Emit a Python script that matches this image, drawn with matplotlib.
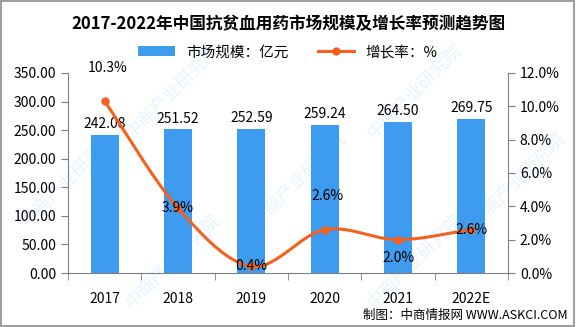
import numpy as np
import matplotlib.pyplot as plt
from matplotlib.patches import Rectangle

plt.rcParams['font.family'] = ['Noto Sans CJK SC', 'DejaVu Sans']

years = ['2017', '2018', '2019', '2020', '2021', '2022E']
market = [242.08, 251.52, 252.59, 259.24, 264.50, 269.75]
growth = [10.3, 3.9, 0.4, 2.6, 2.0, 2.6]
growth_pos = ['above', 'center', 'center', 'above', 'below', 'center']

bar_color = '#3d9bf0'
line_color = '#f5611d'


def smooth(xs, ys, n=30):
    # catmull-rom style smoothing like excel's smoothed line
    xs = np.asarray(xs, float)
    ys = np.asarray(ys, float)
    px = np.concatenate(([2 * xs[0] - xs[1]], xs, [2 * xs[-1] - xs[-2]]))
    py = np.concatenate(([2 * ys[0] - ys[1]], ys, [2 * ys[-1] - ys[-2]]))
    ox, oy = [], []
    t = np.linspace(0, 1, n)
    for i in range(1, len(px) - 2):
        for p, o in ((px, ox), (py, oy)):
            p0, p1, p2, p3 = p[i - 1], p[i], p[i + 1], p[i + 2]
            o.extend(0.5 * ((2 * p1) + (-p0 + p2) * t
                            + (2 * p0 - 5 * p1 + 4 * p2 - p3) * t ** 2
                            + (-p0 + 3 * p1 - 3 * p2 + p3) * t ** 3))
    return np.array(ox), np.array(oy)


fig = plt.figure(figsize=(5.76, 3.27), dpi=100)
fig.patches.append(Rectangle((0.002, 0.004), 0.995, 0.992, transform=fig.transFigure,
                             fill=False, edgecolor='#8c8c8c', lw=1.2))

ax = fig.add_axes([0.118, 0.165, 0.764, 0.612])
x = np.arange(len(years))
bars = ax.bar(x, market, width=0.38, color=bar_color, label='市场规模：亿元', zorder=2)
ax.set_ylim(0, 350)
ax.set_yticks(np.arange(0, 351, 50))
ax.set_yticklabels(['%.2f' % v for v in np.arange(0, 351, 50)])
ax.set_xlim(-0.5, len(years) - 0.5)
ax.set_xticks(x)
ax.set_xticklabels(years)
ax.set_xticks(np.arange(-0.5, len(years), 1), minor=True)
ax.tick_params(axis='x', which='major', length=0, pad=14, labelsize=10)
ax.tick_params(axis='x', which='minor', length=5, color='#7f7f7f')
ax.tick_params(axis='y', length=5, color='#7f7f7f', labelsize=10)
for s in ['top', 'right']:
    ax.spines[s].set_visible(False)
for s in ['left', 'bottom']:
    ax.spines[s].set_color('#7f7f7f')

for xi, v in zip(x, market):
    ax.text(xi, v + 6, '%.2f' % v, ha='center', va='bottom', fontsize=10)

ax2 = ax.twinx()
ax2.set_ylim(0, 12)
ax2.set_yticks(np.arange(0, 12.1, 2))
ax2.set_yticklabels(['%.1f%%' % v for v in np.arange(0, 12.1, 2)])
ax2.tick_params(axis='y', length=5, color='#7f7f7f', labelsize=10)
for s in ['top', 'left', 'bottom']:
    ax2.spines[s].set_visible(False)
ax2.spines['right'].set_color('#7f7f7f')

sx, sy = smooth(x, growth)
ax2.plot(sx, sy, color=line_color, lw=2.2, zorder=3)
ax2.plot(x, growth, 'o', color=line_color, ms=5, zorder=3)
line_handle, = ax2.plot([], [], color=line_color, lw=2.2, marker='o', ms=5, label='增长率：%')

for xi, v, pos in zip(x, growth, growth_pos):
    if pos == 'above':
        ax2.text(xi + 0.04, v + 1.6, '%.1f%%' % v, ha='center', va='bottom', fontsize=10)
    elif pos == 'below':
        ax2.text(xi, v - 0.7, '%.1f%%' % v, ha='center', va='top', fontsize=10)
    else:
        ax2.text(xi, v, '%.1f%%' % v, ha='center', va='center', fontsize=10)

fig.legend(handles=[bars, line_handle], loc='center', bbox_to_anchor=(0.5, 0.84),
           ncol=2, frameon=False, fontsize=10.5, handlelength=2.5, columnspacing=2)

fig.text(0.5, 0.925, '2017-2022年中国抗贫血用药市场规模及增长率预测趋势图',
         ha='center', va='center', fontsize=12, fontweight='bold')
fig.text(0.985, 0.035, '制图：中商情报网 WWW.ASKCI.COM', ha='right', va='center', fontsize=9)

for wx, wy in [(0.3, 0.72), (0.72, 0.72), (0.12, 0.45), (0.52, 0.45), (0.9, 0.45),
               (0.3, 0.2), (0.72, 0.2)]:
    fig.text(wx, wy, '中商产业研究院', ha='center', va='center', fontsize=13,
             rotation=45, color='#3d9bf0', alpha=0.12, zorder=10)

fig.savefig('out.png', dpi=100)
